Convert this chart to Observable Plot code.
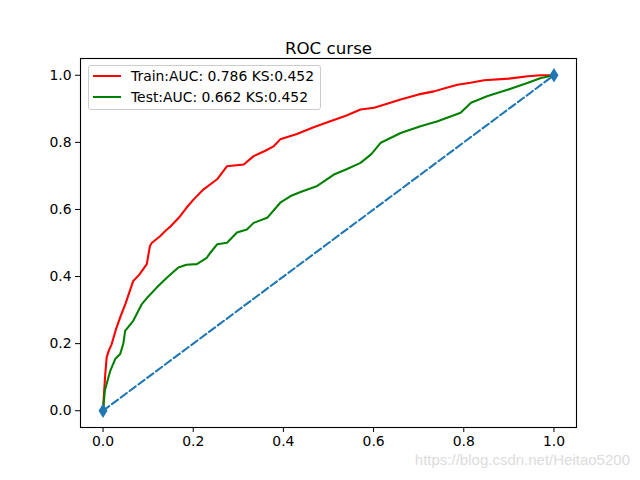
<!DOCTYPE html>
<html>
<head>
<meta charset="utf-8">
<script src="https://cdn.jsdelivr.net/npm/d3@7"></script>
<script src="https://cdn.jsdelivr.net/npm/@observablehq/plot@0.6"></script>
<style>
  body { margin: 0; background: #fff; }
  #wrap { position: relative; width: 640px; height: 480px; font-family: "DejaVu Sans", sans-serif; }
  .legend { position: absolute; left: 88px; top: 65px; width: 233px; height: 45px; box-sizing: border-box;
    border: 1px solid #cccccc; border-radius: 3px; background: rgba(255,255,255,0.8); font-size: 13.9px; color: #000; }
  .row { position: absolute; left: 0; height: 16px; display: flex; align-items: center; }
  .sw { width: 28px; height: 2px; margin-left: 4px; margin-right: 10px; }
  .wm { position: absolute; right: 10px; top: 451px; font-family: "Liberation Sans", Arial, sans-serif; font-size: 15px; color: #dcdcdc; }
</style>
</head>
<body>
<div id="wrap"></div>
<script>
const title = "ROC curse";
const trainLabel = "Train:AUC: 0.786 KS:0.452";
const testLabel = "Test:AUC: 0.662 KS:0.452";
const watermark = "https://blog.csdn.net/Heitao5200";

const trainFpr = [0,0.002,0.005,0.008,0.013,0.019,0.028,0.038,0.05,0.067,0.08,0.097,0.104,0.108,0.127,0.138,0.15,0.171,0.185,0.201,0.223,0.253,0.275,0.312,0.334,0.36,0.379,0.393,0.43,0.467,0.504,0.54,0.571,0.601,0.63,0.66,0.7,0.734,0.76,0.786,0.815,0.845,0.9,0.942,0.97,1];
const trainTpr = [0,0.05,0.11,0.159,0.18,0.198,0.24,0.278,0.32,0.387,0.405,0.437,0.491,0.5,0.521,0.536,0.55,0.58,0.605,0.63,0.66,0.69,0.729,0.734,0.759,0.775,0.789,0.809,0.825,0.845,0.863,0.88,0.898,0.903,0.915,0.928,0.943,0.952,0.962,0.972,0.978,0.985,0.99,0.997,1.0,1];

const testFpr = [0,0.002,0.004,0.01,0.016,0.027,0.038,0.045,0.049,0.067,0.086,0.1,0.119,0.142,0.167,0.185,0.208,0.23,0.238,0.253,0.275,0.297,0.319,0.334,0.364,0.393,0.416,0.438,0.475,0.512,0.54,0.571,0.595,0.616,0.66,0.704,0.742,0.793,0.816,0.853,0.897,0.941,0.971,1];
const testTpr = [0,0.03,0.06,0.09,0.119,0.154,0.169,0.2,0.238,0.268,0.318,0.34,0.367,0.397,0.427,0.435,0.437,0.456,0.471,0.496,0.501,0.531,0.54,0.56,0.575,0.62,0.64,0.652,0.67,0.704,0.72,0.739,0.765,0.799,0.828,0.848,0.863,0.888,0.918,0.938,0.957,0.977,0.992,1];

const diagX = [0, 1];
const diagY = [0, 1];
const ticks = [0, 0.2, 0.4, 0.6, 0.8, 1.0];

const train = trainFpr.map((x, i) => ({x, y: trainTpr[i]}));
const test = testFpr.map((x, i) => ({x, y: testTpr[i]}));
const diag = diagX.map((x, i) => ({x, y: diagY[i]}));

const thinDiamond = {
  draw(ctx, size) {
    const h = 5.8, w = 3.6;
    ctx.moveTo(0, -h); ctx.lineTo(w, 0); ctx.lineTo(0, h); ctx.lineTo(-w, 0); ctx.closePath();
  }
};

const chart = Plot.plot({
  width: 640, height: 480,
  marginLeft: 80, marginRight: 64, marginTop: 58, marginBottom: 53,
  style: { fontFamily: "DejaVu Sans", fontSize: "13.9px", color: "#000", background: "#fff" },
  x: { domain: [-0.05, 1.05], label: null },
  y: { domain: [-0.05, 1.05], label: null },
  marks: [
    Plot.line(diag, { x: "x", y: "y", stroke: "#1f77b4", strokeWidth: 2.08, strokeDasharray: "7.7,3.3" }),
    Plot.line(train, { x: "x", y: "y", stroke: "#ff0000", strokeWidth: 2.08 }),
    Plot.line(test, { x: "x", y: "y", stroke: "#008000", strokeWidth: 2.08 }),
    Plot.dot(diag, { x: "x", y: "y", symbol: thinDiamond, fill: "#1f77b4", stroke: "#1f77b4", r: 4 }),
    Plot.frame({ stroke: "#000", strokeWidth: 1.1 }),
    Plot.axisX({ ticks, tickFormat: d3.format(".1f"), tickSize: 5, tickPadding: 4, label: null, fontSize: 13.9 }),
    Plot.axisY({ ticks, tickFormat: d3.format(".1f"), tickSize: 5, tickPadding: 4, label: null, fontSize: 13.9 }),
    Plot.text([title], { frameAnchor: "top", dy: -16, fontSize: 16.7, fill: "#000" })
  ]
});

const wrap = document.getElementById("wrap");
wrap.appendChild(chart);

const legend = document.createElement("div");
legend.className = "legend";
[[trainLabel, "#ff0000", 2], [testLabel, "#008000", 23]].forEach(([label, color, top]) => {
  const row = document.createElement("div");
  row.className = "row";
  row.style.top = top + "px";
  const sw = document.createElement("div");
  sw.className = "sw";
  sw.style.background = color;
  const t = document.createElement("span");
  t.textContent = label;
  row.appendChild(sw); row.appendChild(t);
  legend.appendChild(row);
});
wrap.appendChild(legend);

const wm = document.createElement("div");
wm.className = "wm";
wm.textContent = watermark;
wrap.appendChild(wm);
</script>
</body>
</html>
